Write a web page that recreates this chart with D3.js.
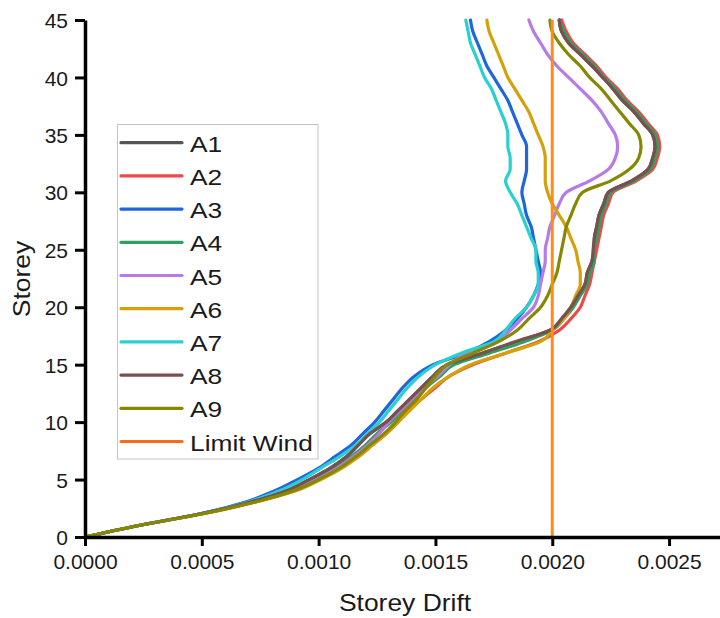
<!DOCTYPE html>
<html>
<head>
<meta charset="utf-8">
<script src="https://cdn.jsdelivr.net/npm/d3@7"></script>
<style>
  body { margin: 0; background: #fff; }
  svg { display: block; }
</style>
</head>
<body>
<svg id="chart"></svg>
<script>
// storey levels 0..45
const storeys = d3.range(0, 46);

// storey drift per series, index = storey
const A1 = [0, 0.00023, 0.00049, 0.00070, 0.00086, 0.00096, 0.00105, 0.00112, 0.00117, 0.00122, 0.00129, 0.00134, 0.00139, 0.00144, 0.00149, 0.00155, 0.00170, 0.00185, 0.00199, 0.00204, 0.00208, 0.00211, 0.00214, 0.00215, 0.00217, 0.00218, 0.00218, 0.00219, 0.00220, 0.00222, 0.00224, 0.00234, 0.00241, 0.00243, 0.00244, 0.00243, 0.00239, 0.00235, 0.00230, 0.00226, 0.00222, 0.00217, 0.00212, 0.00207, 0.00204, 0.00203];
const A2 = [0, 0.00023, 0.00050, 0.00072, 0.00089, 0.00100, 0.00109, 0.00117, 0.00123, 0.00129, 0.00134, 0.00138, 0.00144, 0.00150, 0.00156, 0.00166, 0.00180, 0.00194, 0.00203, 0.00208, 0.00212, 0.00214, 0.00216, 0.00217, 0.00218, 0.00219, 0.00220, 0.00221, 0.00222, 0.00224, 0.00226, 0.00236, 0.00243, 0.00245, 0.00246, 0.00245, 0.00241, 0.00237, 0.00232, 0.00228, 0.00223, 0.00219, 0.00214, 0.00209, 0.00206, 0.00204];
const A3 = [0, 0.00023, 0.00049, 0.00068, 0.00081, 0.00091, 0.00100, 0.00107, 0.00114, 0.00119, 0.00124, 0.00128, 0.00132, 0.00136, 0.00141, 0.00149, 0.00163, 0.00173, 0.00180, 0.00185, 0.00189, 0.00192, 0.00194, 0.00195, 0.00194, 0.00193, 0.00192, 0.00191, 0.00189, 0.00188, 0.00187, 0.00188, 0.00189, 0.00189, 0.00189, 0.00187, 0.00185, 0.00183, 0.00181, 0.00178, 0.00175, 0.00172, 0.00170, 0.00168, 0.00166, 0.00165];
const A4 = [0, 0.00023, 0.00049, 0.00071, 0.00087, 0.00098, 0.00107, 0.00114, 0.00120, 0.00125, 0.00131, 0.00136, 0.00141, 0.00146, 0.00152, 0.00158, 0.00173, 0.00188, 0.00200, 0.00205, 0.00209, 0.00212, 0.00215, 0.00216, 0.00218, 0.00218, 0.00219, 0.00220, 0.00221, 0.00223, 0.00225, 0.00235, 0.00242, 0.00244, 0.00245, 0.00244, 0.00240, 0.00236, 0.00231, 0.00227, 0.00222, 0.00218, 0.00213, 0.00208, 0.00205, 0.00203];
const A5 = [0, 0.00023, 0.00049, 0.00071, 0.00088, 0.00099, 0.00108, 0.00115, 0.00121, 0.00126, 0.00130, 0.00135, 0.00140, 0.00145, 0.00151, 0.00156, 0.00163, 0.00176, 0.00182, 0.00187, 0.00192, 0.00194, 0.00195, 0.00196, 0.00197, 0.00197, 0.00198, 0.00199, 0.00201, 0.00203, 0.00206, 0.00216, 0.00224, 0.00227, 0.00228, 0.00227, 0.00224, 0.00221, 0.00217, 0.00212, 0.00207, 0.00202, 0.00198, 0.00195, 0.00192, 0.00190];
const A6 = [0, 0.00023, 0.00050, 0.00072, 0.00090, 0.00101, 0.00110, 0.00117, 0.00123, 0.00129, 0.00134, 0.00139, 0.00144, 0.00149, 0.00156, 0.00165, 0.00180, 0.00195, 0.00200, 0.00205, 0.00208, 0.00210, 0.00212, 0.00212, 0.00211, 0.00210, 0.00208, 0.00206, 0.00203, 0.00200, 0.00198, 0.00197, 0.00197, 0.00197, 0.00196, 0.00194, 0.00192, 0.00190, 0.00187, 0.00184, 0.00181, 0.00179, 0.00177, 0.00175, 0.00173, 0.00172];
const A7 = [0, 0.00023, 0.00049, 0.00069, 0.00083, 0.00093, 0.00101, 0.00109, 0.00116, 0.00121, 0.00126, 0.00130, 0.00134, 0.00138, 0.00143, 0.00150, 0.00161, 0.00175, 0.00180, 0.00184, 0.00189, 0.00192, 0.00194, 0.00194, 0.00193, 0.00193, 0.00191, 0.00189, 0.00187, 0.00185, 0.00182, 0.00180, 0.00182, 0.00182, 0.00181, 0.00181, 0.00180, 0.00178, 0.00176, 0.00174, 0.00171, 0.00169, 0.00167, 0.00165, 0.00164, 0.00163];
const A8 = [0, 0.00023, 0.00049, 0.00070, 0.00086, 0.00096, 0.00105, 0.00112, 0.00117, 0.00122, 0.00129, 0.00134, 0.00139, 0.00144, 0.00149, 0.00155, 0.00170, 0.00184, 0.00199, 0.00204, 0.00208, 0.00211, 0.00214, 0.00215, 0.00217, 0.002175, 0.00218, 0.00219, 0.00220, 0.00222, 0.00224, 0.00234, 0.00241, 0.00243, 0.00244, 0.00243, 0.00239, 0.00235, 0.00230, 0.00226, 0.002215, 0.00217, 0.00212, 0.00207, 0.00204, 0.00203];
const A9 = [0, 0.00023, 0.00050, 0.00072, 0.00089, 0.00100, 0.00109, 0.00116, 0.00122, 0.00128, 0.00133, 0.00137, 0.00142, 0.00146, 0.00150, 0.00155, 0.00166, 0.00177, 0.00185, 0.00190, 0.00195, 0.00198, 0.00200, 0.00202, 0.00203, 0.00204, 0.00205, 0.00206, 0.00208, 0.00210, 0.00213, 0.00225, 0.00233, 0.00237, 0.00238, 0.00237, 0.00233, 0.00229, 0.00225, 0.00221, 0.00216, 0.00212, 0.00207, 0.00203, 0.00200, 0.00199];

const limitDrift = 0.002;
const limitStoreys = [0, 45];

const seriesNames = ['A1', 'A2', 'A3', 'A4', 'A5', 'A6', 'A7', 'A8', 'A9'];
const seriesValues = [A1, A2, A3, A4, A5, A6, A7, A8, A9];
const seriesColors = ['#555555', '#F04848', '#1F66DD', '#2EA061', '#B57BE6', '#D4A10A', '#2ACFD0', '#7A4F4F', '#858800'];
const limitColor = '#FF8C1A';
const limitLegendColor = '#FF6A1A';

const xTicks = [0, 0.0005, 0.0010, 0.0015, 0.0020, 0.0025];
const yTicks = [0, 5, 10, 15, 20, 25, 30, 35, 40, 45];

const width = 720, height = 618;
const svg = d3.select('#chart')
  .attr('width', width)
  .attr('height', height);

const x = d3.scaleLinear().domain([0, 0.002718]).range([85, 720]);
const y = d3.scaleLinear().domain([0, 45]).range([537, 20]);

const font = '"Liberation Sans", Arial, sans-serif';

// series lines
const line = d3.line()
  .x(d => x(d[0]))
  .y(d => y(d[1]))
  .curve(d3.curveMonotoneY);

const linesLayer = svg.append('g');
seriesValues.forEach((vals, i) => {
  linesLayer.append('path')
    .datum(vals.map((v, k) => [v, storeys[k]]))
    .attr('fill', 'none')
    .attr('stroke', seriesColors[i])
    .attr('stroke-width', 3.2)
    .attr('stroke-linejoin', 'round')
    .attr('stroke-linecap', 'round')
    .attr('d', line);
});

linesLayer.append('path')
  .datum(limitStoreys.map(s => [limitDrift, s]))
  .attr('fill', 'none')
  .attr('stroke', limitColor)
  .attr('stroke-width', 3)
  .attr('d', line);

// axes
const xAxis = svg.append('g')
  .attr('transform', `translate(0,${y(0)})`)
  .call(d3.axisBottom(x).tickValues(xTicks).tickFormat(d3.format('.4f')).tickSize(9).tickSizeOuter(0).tickPadding(8));
const yAxis = svg.append('g')
  .attr('transform', `translate(${x(0)},0)`)
  .call(d3.axisLeft(y).tickValues(yTicks).tickSize(10).tickSizeOuter(0).tickPadding(7));

[xAxis, yAxis].forEach(ax => {
  ax.select('.domain').attr('stroke', '#000').attr('stroke-width', 3.5);
  ax.selectAll('.tick line').attr('stroke', '#000').attr('stroke-width', 3);
  ax.selectAll('.tick text')
    .attr('fill', '#1a1a1a')
    .style('font-family', font)
    .style('font-size', '21px');
});
xAxis.selectAll('.tick text').attr('dy', '0.71em');
yAxis.selectAll('.tick text').attr('dy', '0.36em');

// axis titles
svg.append('text')
  .attr('transform', 'translate(405,611) scale(1.15,1)')
  .attr('text-anchor', 'middle')
  .style('font-family', font)
  .style('font-size', '23px')
  .attr('fill', '#1a1a1a')
  .text('Storey Drift');

svg.append('text')
  .attr('transform', 'translate(30,279) rotate(-90) scale(1.15,1)')
  .attr('text-anchor', 'middle')
  .style('font-family', font)
  .style('font-size', '23px')
  .attr('fill', '#1a1a1a')
  .text('Storey');

// legend
const legendItems = seriesNames.map((n, i) => ({ name: n, color: seriesColors[i] }))
  .concat([{ name: 'Limit Wind', color: limitLegendColor }]);

const legend = svg.append('g');
legend.append('rect')
  .attr('x', 117.5)
  .attr('y', 124.5)
  .attr('width', 200.5)
  .attr('height', 334.5)
  .attr('fill', '#fff')
  .attr('stroke', '#c4c4c4')
  .attr('stroke-width', 1);

const rowY = d3.scalePoint().domain(legendItems.map(d => d.name)).range([142.7, 441.5]);
legendItems.forEach(item => {
  const cy = rowY(item.name);
  legend.append('line')
    .attr('x1', 121)
    .attr('x2', 182)
    .attr('y1', cy)
    .attr('y2', cy)
    .attr('stroke', item.color)
    .attr('stroke-width', 3.2)
    .attr('stroke-linecap', 'round');
  legend.append('text')
    .attr('transform', `translate(190,${cy + 9}) scale(1.17,1)`)
    .style('font-family', font)
    .style('font-size', '22.5px')
    .attr('fill', '#1a1a1a')
    .text(item.name);
});
</script>
</body>
</html>
